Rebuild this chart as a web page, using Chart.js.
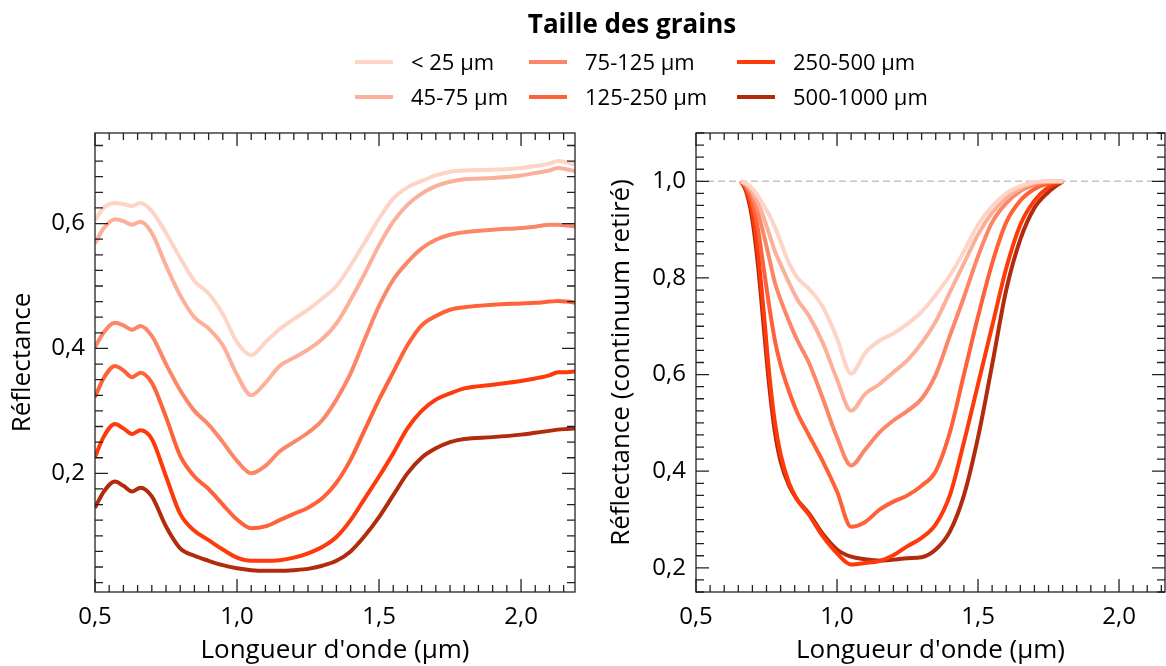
<!DOCTYPE html>
<html>
<head>
<meta charset="utf-8">
<script src="https://cdn.jsdelivr.net/npm/chart.js@4/dist/chart.umd.min.js"></script>
<style>
  body { margin: 0; background: #fff; }
  #wrap { position: relative; width: 1166px; height: 666px; font-family: 'Open Sans', sans-serif; color: #000; overflow: hidden; }
  #wrap canvas { position: absolute; top: 0; }
  #legendTitle { position: absolute; left: 432px; width: 400px; top: 8px; text-align: center; font-size: 26px; font-weight: bold; line-height: 30px; }
  .lgLine { position: absolute; width: 38px; height: 4px; }
  .lgText { position: absolute; font-size: 22px; line-height: 26px; white-space: nowrap; }
</style>
</head>
<body>
<div id="wrap">
  <canvas id="rawChart" width="600" height="666" style="left:0"></canvas>
  <canvas id="crChart" width="566" height="666" style="left:600px"></canvas>
  <div id="legendTitle">Taille des grains</div>
  <div id="legend"></div>
</div>
<script>
// Grain size classes and their colours
var grainLabels = ['< 25 µm', '45-75 µm', '75-125 µm', '125-250 µm', '250-500 µm', '500-1000 µm'];
var grainColors = ['#fdd4c6', '#fcb09a', '#fc8768', '#ff6239', '#ff3a0a', '#b22b0d'];

// Left panel: raw reflectance spectra (wavelength in µm)
var wavelength = [0.50, 0.53, 0.57, 0.60, 0.63, 0.66, 0.70, 0.75, 0.80, 0.85, 0.90, 0.95, 1.00, 1.05, 1.10, 1.15, 1.20, 1.25,
                  1.30, 1.35, 1.40, 1.45, 1.50, 1.55, 1.60, 1.65, 1.70, 1.75, 1.80, 1.90, 2.00, 2.05, 2.10, 2.13, 2.16, 2.20];
var refl_lt25 = [0.605, 0.625, 0.633, 0.631, 0.628, 0.633, 0.620, 0.585, 0.545, 0.508, 0.488, 0.455, 0.410, 0.389, 0.410, 0.431, 0.447, 0.462,
                 0.480, 0.500, 0.533, 0.570, 0.608, 0.640, 0.658, 0.668, 0.677, 0.683, 0.685, 0.686, 0.689, 0.692, 0.696, 0.700, 0.698, 0.693];
var refl_45_75 = [0.568, 0.592, 0.607, 0.604, 0.598, 0.603, 0.585, 0.533, 0.485, 0.450, 0.432, 0.405, 0.358, 0.325, 0.345, 0.372, 0.385, 0.398,
                  0.415, 0.440, 0.478, 0.520, 0.565, 0.603, 0.630, 0.648, 0.660, 0.667, 0.671, 0.673, 0.677, 0.681, 0.685, 0.689, 0.687, 0.683];
var refl_75_125 = [0.402, 0.425, 0.441, 0.437, 0.430, 0.436, 0.420, 0.375, 0.333, 0.300, 0.278, 0.250, 0.220, 0.200, 0.212, 0.235, 0.250, 0.265,
                   0.285, 0.318, 0.360, 0.415, 0.468, 0.510, 0.538, 0.560, 0.574, 0.582, 0.586, 0.590, 0.593, 0.595, 0.598, 0.598, 0.597, 0.595];
var refl_125_250 = [0.322, 0.352, 0.372, 0.365, 0.354, 0.361, 0.345, 0.290, 0.228, 0.195, 0.175, 0.150, 0.126, 0.112, 0.115, 0.125, 0.135, 0.145,
                    0.160, 0.185, 0.222, 0.270, 0.318, 0.362, 0.405, 0.437, 0.452, 0.462, 0.466, 0.470, 0.472, 0.473, 0.475, 0.476, 0.475, 0.473];
var refl_250_500 = [0.226, 0.258, 0.279, 0.272, 0.263, 0.269, 0.255, 0.195, 0.135, 0.108, 0.093, 0.078, 0.065, 0.060, 0.060, 0.061, 0.065, 0.072,
                    0.082, 0.098, 0.125, 0.160, 0.195, 0.232, 0.272, 0.300, 0.318, 0.328, 0.336, 0.342, 0.348, 0.352, 0.357, 0.362, 0.362, 0.364];
var refl_500_1000 = [0.145, 0.170, 0.187, 0.180, 0.171, 0.177, 0.163, 0.115, 0.080, 0.068, 0.060, 0.053, 0.048, 0.045, 0.044, 0.044, 0.045, 0.047,
                     0.052, 0.060, 0.075, 0.100, 0.130, 0.165, 0.200, 0.225, 0.240, 0.250, 0.255, 0.258, 0.262, 0.265, 0.268, 0.270, 0.271, 0.272];

// Right panel: continuum-removed band around 1 µm
var crWavelength = [0.66, 0.68, 0.70, 0.72, 0.74, 0.76, 0.78, 0.80, 0.83, 0.86, 0.90, 0.95, 1.00, 1.05, 1.10, 1.15, 1.20, 1.25,
                    1.30, 1.35, 1.40, 1.45, 1.50, 1.55, 1.60, 1.65, 1.70, 1.75, 1.80];
var cr_lt25 = [1.0, 0.995, 0.985, 0.970, 0.950, 0.930, 0.905, 0.875, 0.830, 0.800, 0.778, 0.740, 0.675, 0.602, 0.645, 0.670, 0.685, 0.705,
               0.730, 0.765, 0.805, 0.855, 0.910, 0.948, 0.975, 0.990, 0.998, 1.0, 1.0];
var cr_45_75 = [1.0, 0.993, 0.978, 0.955, 0.925, 0.890, 0.855, 0.828, 0.790, 0.755, 0.722, 0.665, 0.590, 0.525, 0.560, 0.580, 0.605, 0.630,
                0.665, 0.710, 0.770, 0.830, 0.890, 0.935, 0.965, 0.985, 0.997, 1.0, 1.0];
var cr_75_125 = [1.0, 0.990, 0.970, 0.935, 0.890, 0.840, 0.790, 0.755, 0.710, 0.670, 0.625, 0.550, 0.470, 0.412, 0.445, 0.480, 0.505, 0.525,
                 0.550, 0.600, 0.680, 0.760, 0.845, 0.915, 0.955, 0.980, 0.993, 0.999, 1.0];
var cr_125_250 = [1.0, 0.985, 0.955, 0.900, 0.820, 0.740, 0.670, 0.620, 0.565, 0.520, 0.475, 0.420, 0.358, 0.285, 0.295, 0.320, 0.337, 0.350,
                  0.370, 0.400, 0.480, 0.600, 0.720, 0.830, 0.915, 0.960, 0.984, 0.996, 1.0];
var cr_250_500 = [1.0, 0.980, 0.935, 0.850, 0.730, 0.600, 0.500, 0.435, 0.375, 0.340, 0.310, 0.265, 0.230, 0.207, 0.210, 0.214, 0.226, 0.245,
                  0.262, 0.290, 0.350, 0.460, 0.580, 0.700, 0.820, 0.910, 0.960, 0.988, 1.0];
var cr_500_1000 = [1.0, 0.975, 0.920, 0.825, 0.700, 0.575, 0.480, 0.420, 0.370, 0.340, 0.313, 0.270, 0.238, 0.223, 0.218, 0.215, 0.217, 0.220,
                   0.222, 0.238, 0.275, 0.350, 0.470, 0.620, 0.775, 0.880, 0.945, 0.978, 1.0];

// Axis ticks
var xTickValues = [0.5, 1.0, 1.5, 2.0];
var rawYTickValues = [0.2, 0.4, 0.6];
var crYTickValues = [0.2, 0.4, 0.6, 0.8, 1.0];
var crReference = 1.0;

var rawSeries = [refl_lt25, refl_45_75, refl_75_125, refl_125_250, refl_250_500, refl_500_1000];
var crSeries = [cr_lt25, cr_45_75, cr_75_125, cr_125_250, cr_250_500, cr_500_1000];

Chart.defaults.font.family = "'Open Sans', sans-serif";
Chart.defaults.color = '#000';

function isMajor(v, step) {
    return Math.abs(v / step - Math.round(v / step)) < 1e-6;
}

// Frame with inward minor/major ticks on all four sides, plus optional dashed reference line
var frameTicks = {
    id: 'frameTicks',
    beforeDatasetsDraw: function(chart, args, opts) {
        if (opts.refLine === undefined) return;
        var ctx = chart.ctx, a = chart.chartArea;
        var y = chart.scales.y.getPixelForValue(opts.refLine);
        ctx.save();
        ctx.strokeStyle = '#c4c4c4';
        ctx.lineWidth = 1.6;
        ctx.setLineDash([7, 4]);
        ctx.beginPath();
        ctx.moveTo(a.left, y);
        ctx.lineTo(a.right, y);
        ctx.stroke();
        ctx.restore();
    },
    afterDraw: function(chart, args, opts) {
        var ctx = chart.ctx, a = chart.chartArea;
        var xs = chart.scales.x, ys = chart.scales.y;
        var k, v, p, len;
        ctx.save();
        ctx.strokeStyle = '#222';
        ctx.lineWidth = 1.3;
        ctx.strokeRect(a.left, a.top, a.right - a.left, a.bottom - a.top);
        ctx.beginPath();
        for (k = Math.ceil(xs.min / opts.xMinor - 1e-6); k * opts.xMinor <= xs.max + 1e-9; k++) {
            v = k * opts.xMinor;
            p = xs.getPixelForValue(v);
            len = isMajor(v, opts.xMajor) ? 13 : 7;
            ctx.moveTo(p, a.bottom); ctx.lineTo(p, a.bottom - len);
            ctx.moveTo(p, a.top); ctx.lineTo(p, a.top + len);
        }
        for (k = Math.ceil(ys.min / opts.yMinor - 1e-6); k * opts.yMinor <= ys.max + 1e-9; k++) {
            v = k * opts.yMinor;
            p = ys.getPixelForValue(v);
            len = isMajor(v, opts.yMajor) ? 13 : 8;
            ctx.moveTo(a.left, p); ctx.lineTo(a.left + len, p);
            ctx.moveTo(a.right, p); ctx.lineTo(a.right - len, p);
        }
        ctx.stroke();
        ctx.restore();
    }
};

function commaLabel(value) {
    return Number(value).toFixed(1).replace('.', ',');
}

function buildDatasets(xs, series) {
    return series.map(function(ys, i) {
        return {
            label: grainLabels[i],
            data: xs.map(function(x, j) { return {x: x, y: ys[j]}; }),
            borderColor: grainColors[i],
            borderWidth: 4,
            pointRadius: 0,
            fill: false,
            cubicInterpolationMode: 'monotone'
        };
    });
}

function panelOptions(cfg) {
    return {
        responsive: false,
        animation: false,
        devicePixelRatio: 1,
        layout: {padding: cfg.padding},
        plugins: {
            legend: {display: false},
            tooltip: {enabled: false},
            frameTicks: cfg.frame
        },
        scales: {
            x: {
                type: 'linear',
                min: cfg.xMin, max: cfg.xMax,
                afterFit: function(s) { s.height = 74; },
                afterBuildTicks: function(s) { s.ticks = xTickValues.map(function(v) { return {value: v}; }); },
                grid: {display: false, drawTicks: false},
                border: {display: false},
                ticks: {padding: 11, font: {size: 24}, color: '#000', maxRotation: 0, autoSkip: false, callback: commaLabel},
                title: {display: true, text: "Longueur d'onde (µm)", font: {size: 26}, color: '#000', padding: 0}
            },
            y: {
                type: 'linear',
                min: cfg.yMin, max: cfg.yMax,
                afterFit: function(s) { s.width = cfg.yWidth; },
                afterBuildTicks: function(s) { s.ticks = cfg.yTicks.map(function(v) { return {value: v}; }); },
                grid: {display: false, drawTicks: false},
                border: {display: false},
                ticks: {padding: 10, font: {size: 24}, color: '#000', autoSkip: false, callback: commaLabel},
                title: {display: true, text: cfg.yTitle, font: {size: 26}, color: '#000', padding: {top: cfg.titlePad, bottom: 0}}
            }
        }
    };
}

var rawChart = new Chart(document.getElementById('rawChart').getContext('2d'), {
    type: 'line',
    data: {datasets: buildDatasets(wavelength, rawSeries)},
    options: panelOptions({
        padding: {left: 0, top: 133, right: 25, bottom: 0},
        xMin: 0.5, xMax: 2.19, yMin: 0.01, yMax: 0.745,
        yWidth: 95, yTicks: rawYTickValues, yTitle: 'Réflectance', titlePad: 7,
        frame: {xMinor: 0.05, xMajor: 0.5, yMinor: 0.025, yMajor: 0.2}
    }),
    plugins: [frameTicks]
});

var crChart = new Chart(document.getElementById('crChart').getContext('2d'), {
    type: 'line',
    data: {datasets: buildDatasets(crWavelength, crSeries)},
    options: panelOptions({
        padding: {left: 0, top: 133, right: 1, bottom: 0},
        xMin: 0.5, xMax: 2.163, yMin: 0.15, yMax: 1.1,
        yWidth: 96, yTicks: crYTickValues, yTitle: 'Réflectance (continuum retiré)', titlePad: 6,
        frame: {xMinor: 0.05, xMajor: 0.5, yMinor: 0.025, yMajor: 0.2, refLine: crReference}
    }),
    plugins: [frameTicks]
});

// Shared legend above both panels, 3 columns filled column by column
var legendCols = [355, 529, 737];
var legendRows = [62, 97];
var legend = document.getElementById('legend');
grainLabels.forEach(function(label, i) {
    var col = Math.floor(i / 2), row = i % 2;
    var line = document.createElement('div');
    line.className = 'lgLine';
    line.style.left = legendCols[col] + 'px';
    line.style.top = (legendRows[row] - 2) + 'px';
    line.style.background = grainColors[i];
    legend.appendChild(line);
    var text = document.createElement('div');
    text.className = 'lgText';
    text.style.left = (legendCols[col] + 56) + 'px';
    text.style.top = (legendRows[row] - 14) + 'px';
    text.textContent = label;
    legend.appendChild(text);
});
</script>
</body>
</html>
